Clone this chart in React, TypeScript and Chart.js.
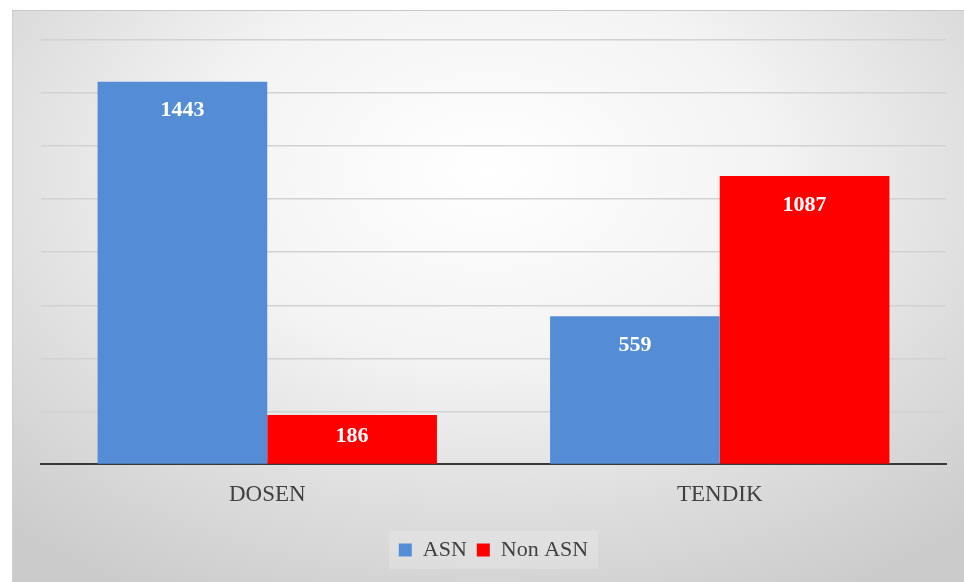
import React, { useEffect, useRef } from "react";
import { Chart, registerables } from "chart.js";

Chart.register(...registerables);

const categories = ["DOSEN", "TENDIK"];
const seriesNames = ["ASN", "Non ASN"];
const asnValues = [1443, 559];
const nonAsnValues = [186, 1087];
const yMax = 1600;
const yStep = 200;

const FONT = '"Liberation Serif", "Times New Roman", serif';
const BLUE = "#548dd6";
const RED = "#ff0000";

const valueLabels = {
  id: "valueLabels",
  afterDatasetsDraw(chart: any) {
    const ctx = chart.ctx;
    ctx.save();
    ctx.font = `bold 22px ${FONT}`;
    ctx.fillStyle = "#ffffff";
    ctx.textAlign = "center";
    ctx.textBaseline = "middle";
    chart.data.datasets.forEach((ds: any, di: number) => {
      const meta = chart.getDatasetMeta(di);
      meta.data.forEach((bar: any, i: number) => {
        const p = bar.getProps(["x", "y", "base"], true);
        const h = p.base - p.y;
        const off = Math.min(29, h * 0.43);
        ctx.fillText(String(ds.data[i]), p.x, p.y + off);
      });
    });
    ctx.restore();
  },
};

const legendBackdrop = {
  id: "legendBackdrop",
  beforeDraw(chart: any) {
    const lg = chart.legend;
    if (!lg || !lg.legendHitBoxes || !lg.legendHitBoxes.length) return;
    const boxes = lg.legendHitBoxes;
    let l = Infinity, r = -Infinity, t = Infinity, b = -Infinity;
    boxes.forEach((hb: any) => {
      l = Math.min(l, hb.left);
      r = Math.max(r, hb.left + hb.width);
      t = Math.min(t, hb.top);
      b = Math.max(b, hb.top + hb.height);
    });
    const ctx = chart.ctx;
    ctx.save();
    ctx.fillStyle = "rgba(255,255,255,0.18)";
    ctx.fillRect(l - 10, t - 8, r - l + 20, b - t + 16);
    ctx.restore();
  },
};

export default function App() {
  const ref = useRef<HTMLCanvasElement | null>(null);

  useEffect(() => {
    if (!ref.current) return;
    const chart = new Chart(ref.current, {
      type: "bar",
      data: {
        labels: categories,
        datasets: [
          {
            label: seriesNames[0],
            data: asnValues,
            backgroundColor: BLUE,
            borderWidth: 0,
            categoryPercentage: 0.75,
            barPercentage: 1.0,
          },
          {
            label: seriesNames[1],
            data: nonAsnValues,
            backgroundColor: RED,
            borderWidth: 0,
            categoryPercentage: 0.75,
            barPercentage: 1.0,
          },
        ],
      },
      options: {
        responsive: false,
        animation: false,
        devicePixelRatio: 1,
        layout: { padding: { left: 28, right: 19, top: 29, bottom: 12 } },
        plugins: {
          legend: {
            display: true,
            position: "bottom",
            labels: {
              font: { family: FONT, size: 22 },
              color: "#404040",
              boxWidth: 13,
              boxHeight: 13,
              padding: 10,
            },
          },
          tooltip: { enabled: false },
          title: { display: false },
        },
        scales: {
          x: {
            grid: { display: false, drawTicks: false },
            border: { display: true, color: "#383838", width: 2 },
            ticks: {
              font: { family: FONT, size: 23 },
              color: "#404040",
              padding: 17,
            },
            afterFit: (scale: any) => {
              scale.height += 3;
            },
          },
          y: {
            min: 0,
            max: yMax,
            ticks: { display: false, stepSize: yStep },
            grid: {
              drawTicks: false,
              color: (c: any) => (c.tick && c.tick.value === 0 ? "rgba(0,0,0,0)" : "#d2d2d2"),
              lineWidth: 1.5,
            },
            border: { display: false },
          },
        },
      },
      plugins: [legendBackdrop, valueLabels],
    });
    return () => chart.destroy();
  }, []);

  return (
    <div
      style={{
        position: "fixed",
        left: 0,
        top: 0,
        width: 964,
        height: 582,
        background: "#ffffff",
        overflow: "hidden",
      }}
    >
      <div
        style={{
          position: "absolute",
          left: 12,
          top: 10,
          width: 952,
          height: 572,
          background:
            "radial-gradient(ellipse 75% 85% at 50% 28%, #ffffff 0%, #f3f3f3 40%, #dedede 70%, #cbcbcb 100%)",
          borderTop: "1px solid #c8c8c8",
          borderLeft: "1px solid #cfcfcf",
          boxSizing: "border-box",
        }}
      >
        <canvas ref={ref} width={952} height={572} style={{ display: "block" }} />
      </div>
    </div>
  );
}
